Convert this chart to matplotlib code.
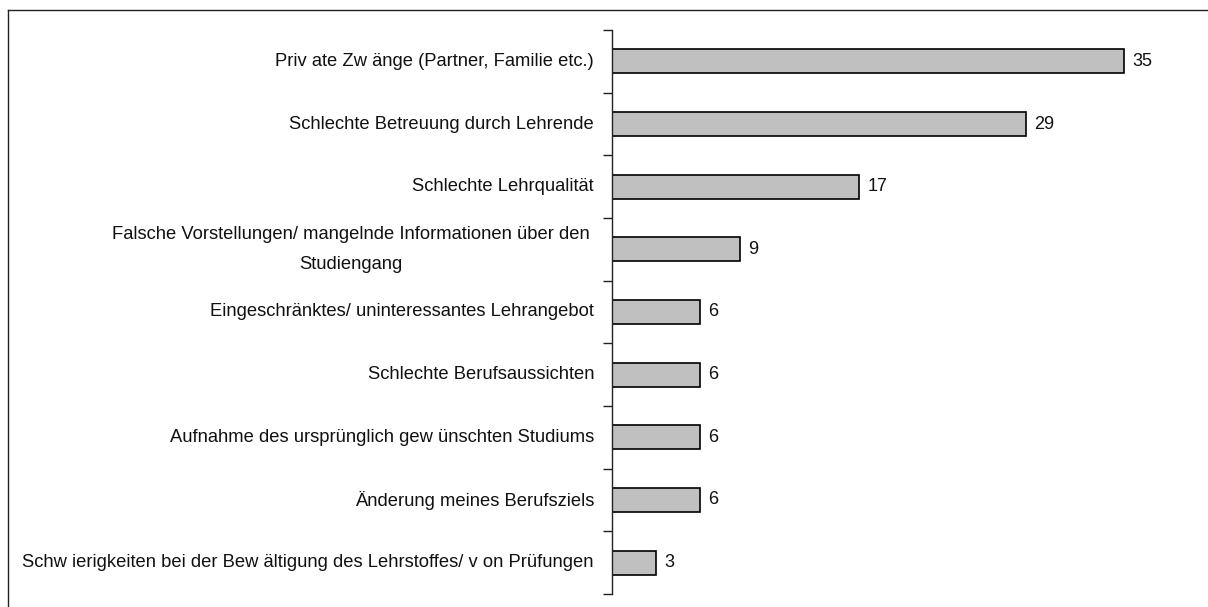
import matplotlib
matplotlib.use("Agg")
import matplotlib.pyplot as plt
from matplotlib.lines import Line2D
from matplotlib import font_manager

categories = [
    "Priv ate Zw änge (Partner, Familie etc.)",
    "Schlechte Betreuung durch Lehrende",
    "Schlechte Lehrqualität",
    "Falsche Vorstellungen/ mangelnde Informationen über den\nStudiengang",
    "Eingeschränktes/ uninteressantes Lehrangebot",
    "Schlechte Berufsaussichten",
    "Aufnahme des ursprünglich gew ünschten Studiums",
    "Änderung meines Berufsziels",
    "Schw ierigkeiten bei der Bew ältigung des Lehrstoffes/ v on Prüfungen",
]
values = [35.0, 28.3, 16.9, 8.75, 6.0, 6.0, 6.0, 6.0, 3.0]
value_labels = ["35", "29", "17", "9", "6", "6", "6", "6", "3"]

names = {f.name for f in font_manager.fontManager.ttflist}
fam = ["Liberation Sans Narrow", "Liberation Sans", "DejaVu Sans"]
fam = [f for f in fam if f in names] or ["DejaVu Sans"]
plt.rcParams["font.family"] = fam

W, H = 1208, 607
fig = plt.figure(figsize=(W / 100, H / 100), dpi=100)
ax = fig.add_axes([612 / W, 1 - 594 / H, (1197 - 612) / W, (594 - 30) / H])

n = len(categories)
ypos = list(range(n))
ax.barh(ypos, values, height=0.38, color="#C0C0C0", edgecolor="black", linewidth=1.2)
ax.set_ylim(n - 0.5, -0.5)
ax.set_xlim(0, 40)

for y, v, lab in zip(ypos, values, value_labels):
    ax.annotate(lab, (v, y), xytext=(8, 0), textcoords="offset pixels",
                ha="left", va="center", fontsize=13, color="#111111")

for y, cat in zip(ypos, categories):
    ml = "\n" in cat
    ax.annotate(cat, (0, y), xytext=(-22 if ml else -18, 0),
                textcoords="offset pixels", ha="right", va="center",
                multialignment="center", fontsize=13.2, color="#111111",
                linespacing=2.0 if ml else 1.2)

ax.set_yticks([i - 0.5 for i in range(n + 1)])
ax.set_yticklabels([])
ax.tick_params(axis="y", direction="out", length=6.5, width=1.0, color="#222222")
ax.set_xticks([])
for s in ["top", "right", "bottom"]:
    ax.spines[s].set_visible(False)
ax.spines["left"].set_linewidth(1.0)
ax.spines["left"].set_color("#222222")

# figure border (left and top visible)
fig.add_artist(Line2D([8 / W, 8 / W], [0, 1 - 10 / H], transform=fig.transFigure,
                      color="#222222", linewidth=1.0))
fig.add_artist(Line2D([8 / W, 1], [1 - 10 / H, 1 - 10 / H], transform=fig.transFigure,
                      color="#222222", linewidth=1.0))

fig.savefig("out.png", dpi=100)
